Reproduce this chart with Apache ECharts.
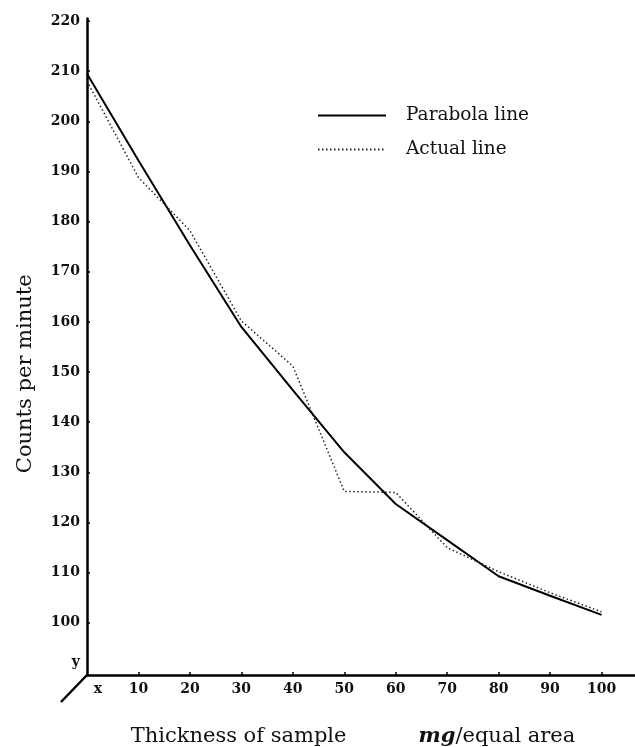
<!DOCTYPE html>
<html>
<head>
<meta charset="utf-8">
<script src="https://cdn.jsdelivr.net/npm/echarts@6/dist/echarts.min.js"></script>
<style>html,body{margin:0;padding:0;background:#fff}#c{width:635px;height:747px}</style>
</head>
<body>
<div id="c"></div>
<script>
const xValues = [0, 10, 20, 30, 40, 50, 60, 70, 80, 90, 100];
const parabolaLine = [209.5, 192.2, 175.3, 159.0, 146.4, 134.0, 123.7, 116.5, 109.3, 105.4, 101.6];
const actualLine = [208.0, 188.8, 178.2, 160.2, 151.2, 126.2, 126.0, 115.0, 110.2, 106.0, 102.2];
const yTickValues = [100, 110, 120, 130, 140, 150, 160, 170, 180, 190, 200, 210, 220];
const xTickValues = [10, 20, 30, 40, 50, 60, 70, 80, 90, 100];
const seriesNames = ['Parabola line', 'Actual line'];
const yAxisTitle = 'Counts per minute';

const serif = 'DejaVu Serif';
const chart = echarts.init(document.getElementById('c'), null, {renderer: 'canvas'});
const yMin = 89.6, yMax = 220.5;

chart.setOption({
  backgroundColor: '#fff',
  animation: false,
  grid: {left: 87, right: 0, top: 18.5, bottom: 72, containLabel: false, outerBoundsMode: 'none'},
  legend: {
    orient: 'vertical', left: 312, top: 101, itemWidth: 68, itemHeight: 14, itemGap: 15,
    itemStyle: {opacity: 0},
    textStyle: {fontFamily: serif, fontSize: 18.5, color: '#111', padding: [0, 0, 0, 15]},
    data: seriesNames
  },
  xAxis: {
    type: 'value', min: 0, max: 106.5,
    name: '{a|Thickness of sample}{b|mg}{a|/equal area}',
    nameLocation: 'middle', nameGap: 51,
    nameTextStyle: {padding: [0, 16, 0, 0], rich: {
      a: {fontFamily: serif, fontSize: 21, color: '#111'},
      b: {fontFamily: serif, fontSize: 21, color: '#111', fontWeight: 'bold', fontStyle: 'italic', padding: [0, 0, 0, 72]}
    }},
    axisLine: {show: true, lineStyle: {color: '#000', width: 2.5}},
    axisTick: {show: true, inside: true, length: 3, customValues: xTickValues, lineStyle: {color: '#000', width: 1.5}},
    axisLabel: {
      customValues: [0].concat(xTickValues), margin: 7,
      fontFamily: serif, fontSize: 14, fontWeight: 'bold', color: '#111',
      formatter: v => v === 0 ? '{x|x}' : String(v),
      rich: {x: {fontFamily: serif, fontSize: 14, fontWeight: 'bold', color: '#111', padding: [0, 0, 0, 22]}}
    },
    splitLine: {show: false}
  },
  yAxis: {
    type: 'value', min: yMin, max: yMax,
    name: yAxisTitle, nameLocation: 'middle', nameGap: 51,
    nameTextStyle: {fontFamily: serif, fontSize: 21, color: '#111', padding: [0, 54, 0, 0]},
    axisLine: {show: true, lineStyle: {color: '#000', width: 2.5}},
    axisTick: {show: true, inside: true, length: 3, customValues: yTickValues, lineStyle: {color: '#000', width: 1.5}},
    axisLabel: {
      customValues: [92.2].concat(yTickValues), margin: 7,
      fontFamily: serif, fontSize: 14, fontWeight: 'bold', color: '#111',
      formatter: v => v < 95 ? 'y' : String(v)
    },
    splitLine: {show: false}
  },
  series: [
    {
      name: seriesNames[0], type: 'line', symbol: 'none', smooth: false,
      data: xValues.map((x, i) => [x, parabolaLine[i]]),
      lineStyle: {color: '#000', width: 2, type: 'solid'},
      itemStyle: {color: '#000'}
    },
    {
      name: seriesNames[1], type: 'line', symbol: 'none', smooth: false,
      data: xValues.map((x, i) => [x, actualLine[i]]),
      lineStyle: {color: '#222', width: 1.5, type: [1.5, 2.5]},
      itemStyle: {color: '#222'}
    }
  ]
});

const origin = chart.convertToPixel({gridIndex: 0}, [0, yMin]);
chart.setOption({
  graphic: [{
    type: 'line', silent: true,
    shape: {x1: origin[0], y1: origin[1], x2: origin[0] - 26, y2: origin[1] + 27},
    style: {stroke: '#000', lineWidth: 2.5}
  }]
});
</script>
</body>
</html>
